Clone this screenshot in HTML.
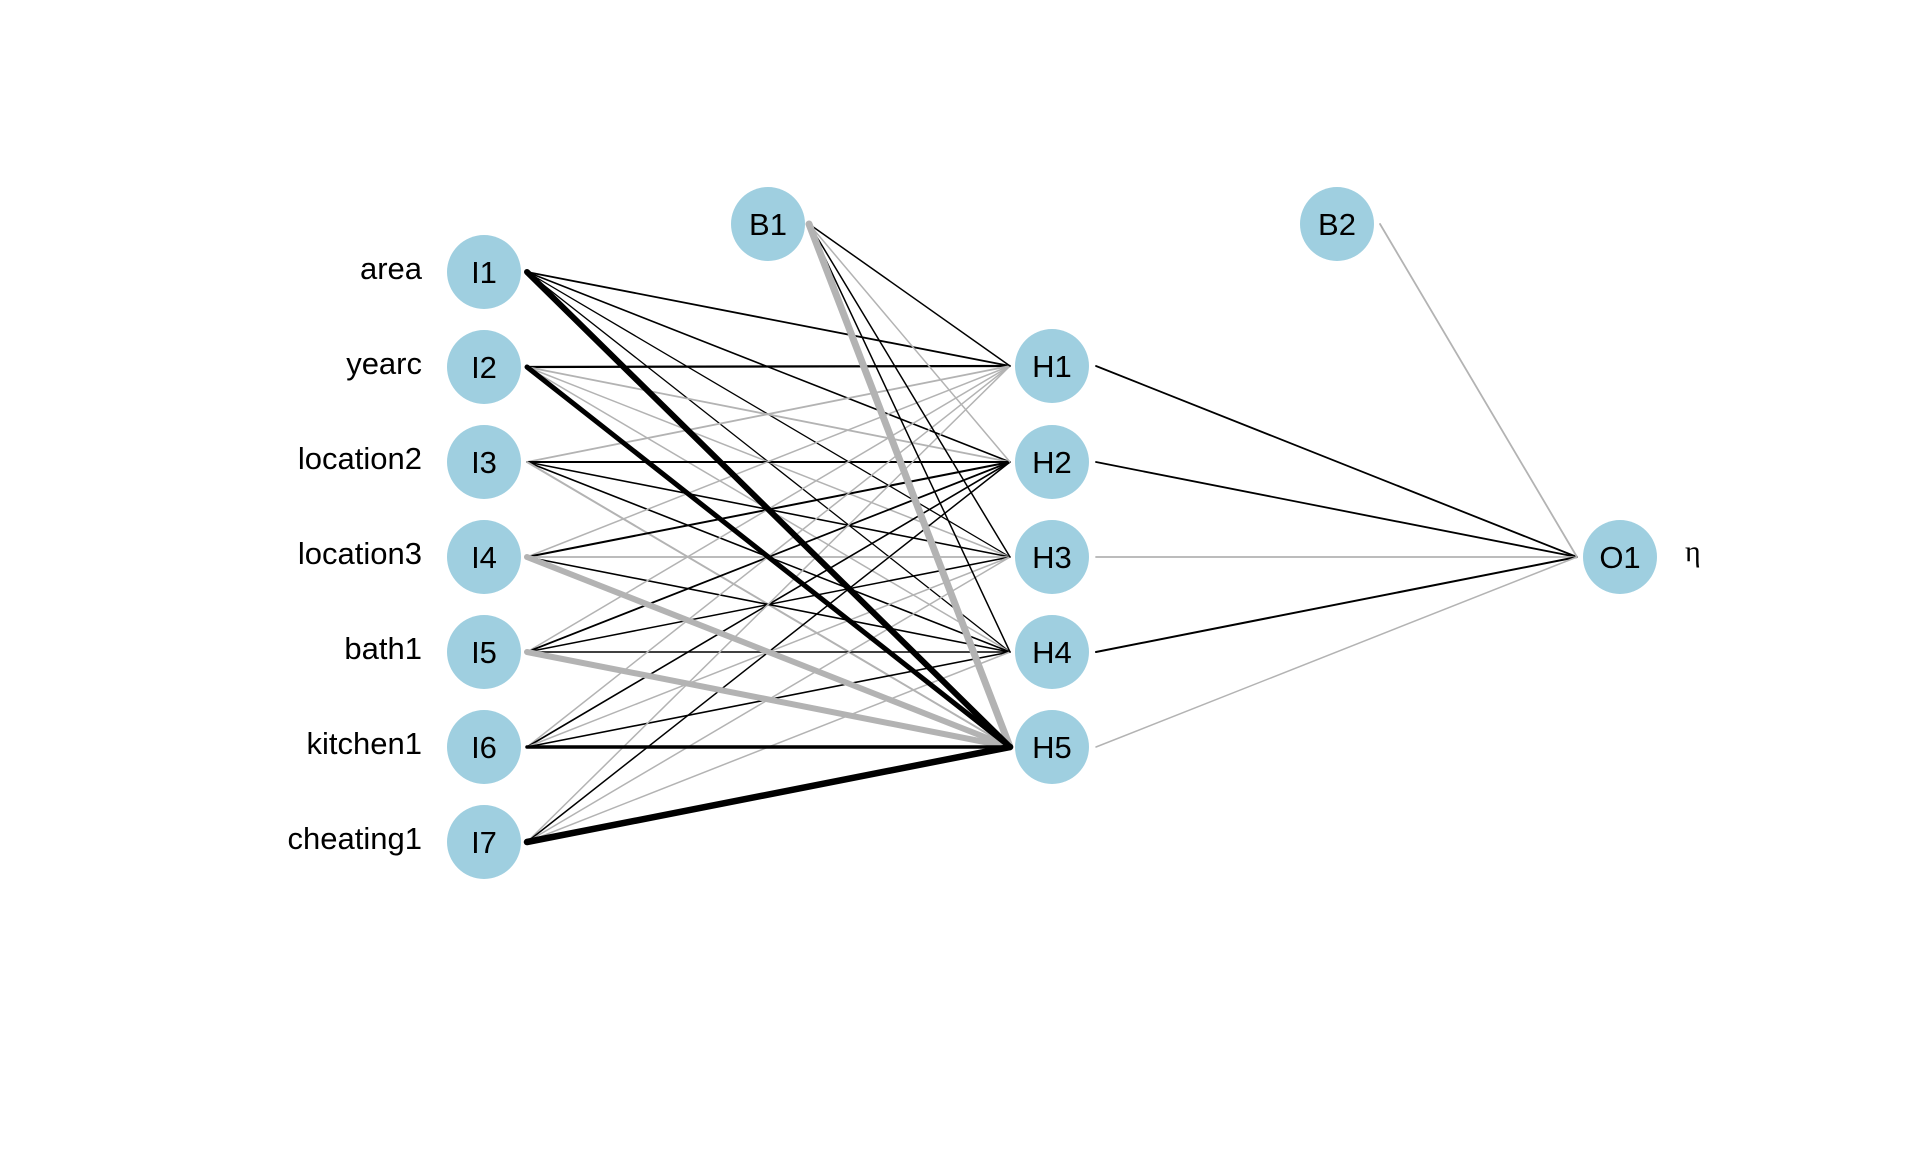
<!DOCTYPE html>
<html><head><meta charset="utf-8"><style>
html,body{margin:0;padding:0;background:#fff;}
svg text{font-family:"Liberation Sans",Arial,sans-serif;}
</style></head><body>
<svg width="1920" height="1152" viewBox="0 0 1920 1152" xmlns="http://www.w3.org/2000/svg">
<g stroke-linecap="round" fill="none">
<line x1="527" y1="272" x2="1010" y2="366" stroke="#000" stroke-width="1.8"/>
<line x1="527" y1="272" x2="1010" y2="462" stroke="#000" stroke-width="1.6"/>
<line x1="527" y1="272" x2="1010" y2="557" stroke="#000" stroke-width="1.3"/>
<line x1="527" y1="272" x2="1010" y2="652" stroke="#000" stroke-width="1.3"/>
<line x1="527" y1="367" x2="1010" y2="366" stroke="#000" stroke-width="2.2"/>
<line x1="527" y1="367" x2="1010" y2="462" stroke="#b3b3b3" stroke-width="1.8"/>
<line x1="527" y1="367" x2="1010" y2="557" stroke="#b3b3b3" stroke-width="1.5"/>
<line x1="527" y1="367" x2="1010" y2="652" stroke="#b3b3b3" stroke-width="1.5"/>
<line x1="527" y1="462" x2="1010" y2="366" stroke="#b3b3b3" stroke-width="1.8"/>
<line x1="527" y1="462" x2="1010" y2="462" stroke="#000" stroke-width="2"/>
<line x1="527" y1="462" x2="1010" y2="557" stroke="#000" stroke-width="1.6"/>
<line x1="527" y1="462" x2="1010" y2="652" stroke="#000" stroke-width="1.6"/>
<line x1="527" y1="462" x2="1010" y2="747" stroke="#b3b3b3" stroke-width="2"/>
<line x1="527" y1="557" x2="1010" y2="366" stroke="#b3b3b3" stroke-width="1.5"/>
<line x1="527" y1="557" x2="1010" y2="462" stroke="#000" stroke-width="2"/>
<line x1="527" y1="557" x2="1010" y2="557" stroke="#b3b3b3" stroke-width="1.8"/>
<line x1="527" y1="557" x2="1010" y2="652" stroke="#000" stroke-width="1.6"/>
<line x1="527" y1="652" x2="1010" y2="366" stroke="#b3b3b3" stroke-width="1.5"/>
<line x1="527" y1="652" x2="1010" y2="462" stroke="#000" stroke-width="1.8"/>
<line x1="527" y1="652" x2="1010" y2="557" stroke="#000" stroke-width="1.5"/>
<line x1="527" y1="652" x2="1010" y2="652" stroke="#000" stroke-width="1.6"/>
<line x1="527" y1="747" x2="1010" y2="366" stroke="#b3b3b3" stroke-width="1.5"/>
<line x1="527" y1="747" x2="1010" y2="462" stroke="#000" stroke-width="1.6"/>
<line x1="527" y1="747" x2="1010" y2="557" stroke="#b3b3b3" stroke-width="1.5"/>
<line x1="527" y1="747" x2="1010" y2="652" stroke="#000" stroke-width="1.6"/>
<line x1="527" y1="842" x2="1010" y2="366" stroke="#b3b3b3" stroke-width="1.5"/>
<line x1="527" y1="842" x2="1010" y2="462" stroke="#000" stroke-width="1.5"/>
<line x1="527" y1="842" x2="1010" y2="557" stroke="#b3b3b3" stroke-width="1.5"/>
<line x1="527" y1="842" x2="1010" y2="652" stroke="#b3b3b3" stroke-width="1.5"/>
<line x1="809" y1="224" x2="1010" y2="366" stroke="#000" stroke-width="1.5"/>
<line x1="809" y1="224" x2="1010" y2="462" stroke="#b3b3b3" stroke-width="1.5"/>
<line x1="809" y1="224" x2="1010" y2="557" stroke="#000" stroke-width="1.5"/>
<line x1="809" y1="224" x2="1010" y2="652" stroke="#000" stroke-width="1.5"/>
<line x1="527" y1="557" x2="1010" y2="747" stroke="#b3b3b3" stroke-width="6"/>
<line x1="527" y1="652" x2="1010" y2="747" stroke="#b3b3b3" stroke-width="6"/>
<line x1="809" y1="224" x2="1010" y2="747" stroke="#b3b3b3" stroke-width="7"/>
<line x1="527" y1="747" x2="1010" y2="747" stroke="#000" stroke-width="3.5"/>
<line x1="527" y1="367" x2="1010" y2="747" stroke="#000" stroke-width="5"/>
<line x1="527" y1="272" x2="1010" y2="747" stroke="#000" stroke-width="6"/>
<line x1="527" y1="842" x2="1010" y2="747" stroke="#000" stroke-width="6.5"/>
<line x1="1096" y1="366" x2="1577" y2="557" stroke="#000" stroke-width="1.8"/>
<line x1="1096" y1="462" x2="1577" y2="557" stroke="#000" stroke-width="1.8"/>
<line x1="1096" y1="557" x2="1577" y2="557" stroke="#b3b3b3" stroke-width="1.8"/>
<line x1="1096" y1="652" x2="1577" y2="557" stroke="#000" stroke-width="2"/>
<line x1="1096" y1="747" x2="1577" y2="557" stroke="#b3b3b3" stroke-width="1.5"/>
<line x1="1380" y1="224" x2="1577" y2="557" stroke="#b3b3b3" stroke-width="1.8"/>
</g>
<g fill="#9fcfe0">
<circle cx="484" cy="272" r="37"/><circle cx="484" cy="367" r="37"/><circle cx="484" cy="462" r="37"/>
<circle cx="484" cy="557" r="37"/><circle cx="484" cy="652" r="37"/><circle cx="484" cy="747" r="37"/>
<circle cx="484" cy="842" r="37"/>
<circle cx="768" cy="224" r="37"/><circle cx="1337" cy="224" r="37"/>
<circle cx="1052" cy="366" r="37"/><circle cx="1052" cy="462" r="37"/><circle cx="1052" cy="557" r="37"/>
<circle cx="1052" cy="652" r="37"/><circle cx="1052" cy="747" r="37"/>
<circle cx="1620" cy="557" r="37"/>
</g>
<g font-size="31" text-anchor="middle" fill="#000">
<text x="484" y="283">I1</text><text x="484" y="378">I2</text><text x="484" y="473">I3</text>
<text x="484" y="568">I4</text><text x="484" y="663">I5</text><text x="484" y="758">I6</text>
<text x="484" y="853">I7</text>
<text x="768" y="235">B1</text><text x="1337" y="235">B2</text>
<text x="1052" y="377">H1</text><text x="1052" y="473">H2</text><text x="1052" y="568">H3</text>
<text x="1052" y="663">H4</text><text x="1052" y="758">H5</text>
<text x="1620" y="568">O1</text>
</g>
<g font-size="31" text-anchor="end" fill="#000">
<text x="422" y="279">area</text><text x="422" y="374">yearc</text><text x="422" y="469">location2</text>
<text x="422" y="564">location3</text><text x="422" y="659">bath1</text><text x="422" y="754">kitchen1</text>
<text x="422" y="849">cheating1</text>
</g>
<text x="1685" y="561" font-size="30" style="font-family:'Liberation Serif',serif">η</text>
</svg>
</body></html>
